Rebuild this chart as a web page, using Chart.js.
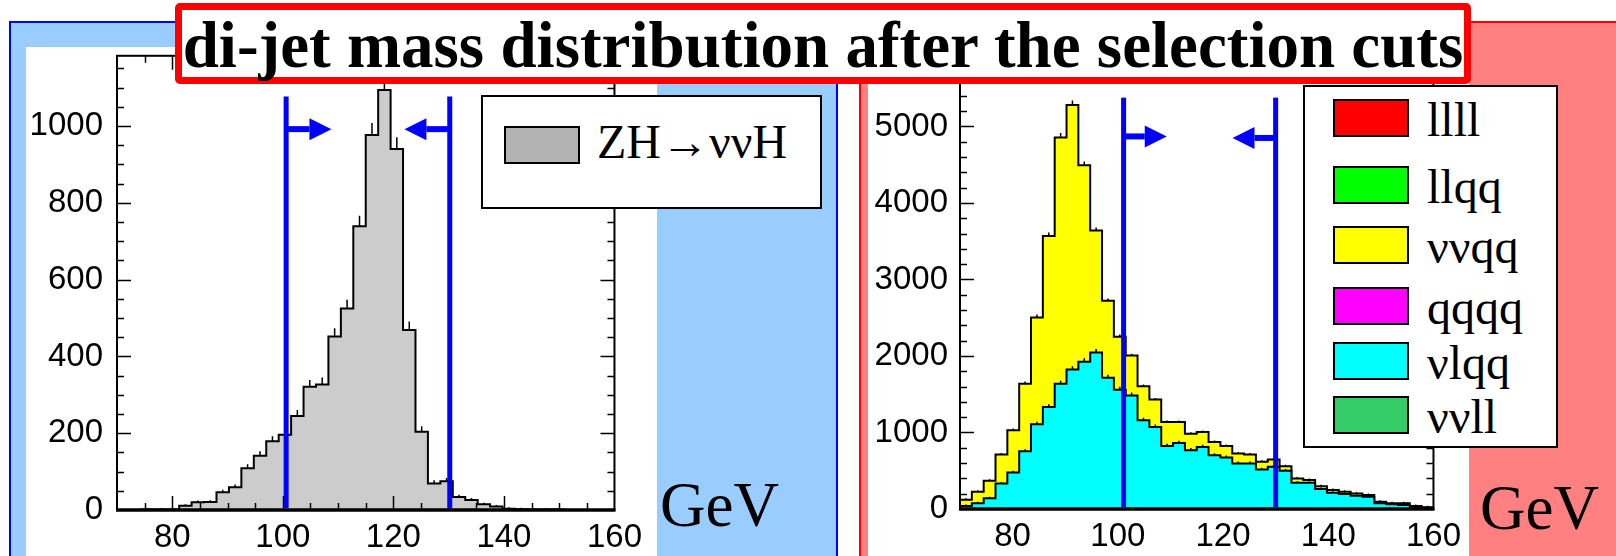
<!DOCTYPE html>
<html>
<head>
<meta charset="utf-8">
<script src="https://cdn.jsdelivr.net/npm/chart.js@4.4.1/dist/chart.umd.min.js"></script>
<style>
  html, body { margin: 0; padding: 0; }
  body { width: 1616px; height: 556px; position: relative; overflow: hidden; background: #fff;
         font-family: "Liberation Serif", "Times New Roman", serif; }
  .abs { position: absolute; box-sizing: border-box; }
  #signalFrame { left: 9px; top: 21px; width: 829px; height: 600px; background: #99ccff;
                 border: 2px solid #0000ff; border-bottom: none; }
  #signalInner { left: 26px; top: 47px; width: 631px; height: 520px; background: #fff; }
  #bgFrame { left: 859px; top: 21px; width: 800px; height: 600px; background: #ff8080;
             border-left: 2px solid #ff0000; border-top: 2px solid #ff0000; }
  #bgInner { left: 868px; top: 47px; width: 601px; height: 520px; background: #fff; }
  canvas { position: absolute; }
  #signalCanvas { left: 20px; top: 22px; }
  #bgCanvas { left: 862px; top: 22px; }
  #title { left: 175px; top: 3px; width: 1296px; height: 81px; border: 7px solid #ff0000; border-radius: 5px;
           background: #fff; font-weight: bold; font-size: 65px; line-height: 67px; padding-top: 2px;
           text-align: center; white-space: nowrap; color: #000; }
  .legendBox { background: #fff; border: 2px solid #000; }
  .swatch { border: 2px solid #000; width: 76px; height: 38px; }
  .legendText { line-height: 1; white-space: nowrap; color: #000; }
  .gev { font-size: 63px; line-height: 1; color: #000; }
</style>
</head>
<body>
<div class="abs" id="signalFrame"></div>
<div class="abs" id="signalInner"></div>
<div class="abs" id="bgFrame"></div>
<div class="abs" id="bgInner"></div>

<canvas id="signalCanvas" width="630" height="534"></canvas>
<canvas id="bgCanvas" width="607" height="534"></canvas>

<div class="abs legendBox" style="left:481px; top:95px; width:341px; height:114px;"></div>
<div class="abs swatch" id="signalSwatch" style="left:504px; top:126px;"></div>
<div class="abs legendText" id="signalLegendText" style="left:597px; top:118px; font-size:48px;"></div>

<div class="abs legendBox" id="bgLegend" style="left:1303px; top:85px; width:255px; height:363px;"></div>

<div class="abs gev" style="left:660px; top:474px;">GeV</div>
<div class="abs gev" style="left:1480px; top:477px;">GeV</div>

<div class="abs" id="title">di-jet mass distribution after the selection cuts</div>

<script>
// histogram binning (GeV)
const massMin = 70;
const massMax = 160;
const binWidth = 2.25;

const massTicks = [80, 100, 120, 140, 160];
const signalTicks = [0, 200, 400, 600, 800, 1000];
const backgroundTicks = [0, 1000, 2000, 3000, 4000, 5000];

// ZH -> nu nu H signal, events per bin
const signalLabel = 'ZH→ννH';
const signalColor = '#cccccc';
const signalSwatchColor = '#b3b3b3';
const signalCounts = [
  0, 0, 1, 1, 1, 11, 20, 21, 46, 59,
  109, 141, 179, 196, 245, 321, 327, 452, 525, 739,
  977, 1094, 940, 469, 204, 69, 75, 34, 26, 15,
  9, 3, 2, 1, 1, 1, 0, 0, 0, 0
];

// backgrounds
const backgroundLabels = ['llll', 'llqq', 'ννqq', 'qqqq', 'νlqq', 'ννll'];
const backgroundColors = ['#ff0000', '#00ff00', '#ffff00', '#ff00ff', '#00ffff', '#33cc66'];
const vlqqCounts = [
  40, 74, 139, 334, 477, 755, 1107, 1332, 1636, 1823,
  1925, 2045, 1714, 1558, 1484, 1159, 1072, 825, 864, 768,
  811, 703, 673, 595, 595, 516, 551, 499, 343, 343,
  260, 213, 195, 174, 161, 74, 61, 52, 22, 15
];
const vvqqCounts = [
  80, 152, 230, 378, 552, 881, 1397, 2236, 3221, 3459,
  2567, 1595, 1007, 695, 521, 447, 360, 312, 273, 217,
  196, 174, 152, 130, 117, 100, 96, 61, 56, 35,
  39, 34, 31, 30, 21, 21, 13, 22, 17, 7
];

// mass window cuts
const signalCuts = [100.6, 130.2];
const backgroundCuts = [101.1, 130.0];

function toSteps(counts) {
  const pts = counts.map((c, i) => ({ x: massMin + i * binWidth, y: c }));
  pts.push({ x: massMax, y: 0 });
  return pts;
}

function drawTicks(chart, o) {
  const { ctx, chartArea: a, scales: { x, y } } = chart;
  ctx.save();
  ctx.strokeStyle = '#000';
  ctx.lineWidth = 1.5;
  ctx.beginPath();
  for (let v = x.min + o.xMinor; v < x.max - 1e-6; v += o.xMinor) {
    const len = Math.abs(v % o.xMajor) < 1e-6 ? 14 : 7;
    const px = Math.round(x.getPixelForValue(v)) + 0.5;
    ctx.moveTo(px, a.bottom); ctx.lineTo(px, a.bottom - len);
    ctx.moveTo(px, a.top); ctx.lineTo(px, a.top + len);
  }
  for (let v = y.min + o.yMinor; v < y.max; v += o.yMinor) {
    const len = v % o.yMajor === 0 ? 14 : 7;
    const py = Math.round(y.getPixelForValue(v)) + 0.5;
    ctx.moveTo(a.left, py); ctx.lineTo(a.left + len, py);
    ctx.moveTo(a.right, py); ctx.lineTo(a.right - len, py);
  }
  ctx.stroke();
  ctx.restore();
}

// ROOT style frame: box around the plot with inward ticks on all sides
const framePlugin = {
  id: 'histFrame',
  beforeDatasetsDraw(chart, args, o) {
    if (!o.ticksOnTop) drawTicks(chart, o);
  },
  afterDatasetsDraw(chart, args, o) {
    if (o.ticksOnTop) drawTicks(chart, o);
    const { ctx, chartArea: a } = chart;
    ctx.save();
    ctx.strokeStyle = '#000';
    ctx.lineWidth = 2;
    ctx.strokeRect(a.left, a.top, a.right - a.left, a.bottom - a.top);
    ctx.lineWidth = 3.5;
    ctx.beginPath();
    ctx.moveTo(a.left - 1, a.bottom);
    ctx.lineTo(a.right + 1, a.bottom);
    ctx.stroke();
    ctx.restore();
  }
};

// small statistical error marks on top of each bin
const errorPlugin = {
  id: 'binErrors',
  afterDatasetsDraw(chart) {
    const { ctx, scales: { y } } = chart;
    ctx.save();
    ctx.strokeStyle = '#000';
    ctx.lineWidth = 1.5;
    ctx.beginPath();
    chart.data.datasets.forEach((ds, di) => {
      const pts = chart.getDatasetMeta(di).data;
      ds.counts.forEach((c, i) => {
        if (!c) return;
        const cx = (pts[i].x + pts[i + 1].x) / 2;
        const len = y.getPixelForValue(0) - y.getPixelForValue(Math.sqrt(c));
        ctx.moveTo(cx, pts[i].y);
        ctx.lineTo(cx, pts[i].y - Math.max(len, 1.5));
      });
    });
    ctx.stroke();
    ctx.restore();
  }
};

// blue cut lines with arrows pointing into the mass window
const cutPlugin = {
  id: 'cutArrows',
  afterDatasetsDraw(chart, args, o) {
    const { ctx, scales: { x, y } } = chart;
    ctx.save();
    ctx.fillStyle = '#0000ff';
    o.cuts.forEach((cut, k) => {
      const dir = k === 0 ? 1 : -1;
      const px = x.getPixelForValue(cut);
      const top = y.getPixelForValue(o.lineTop);
      const bottom = y.getPixelForValue(0) - 2;
      ctx.fillRect(px - 2.5, top, 5, bottom - top);
      const ay = y.getPixelForValue(o.arrowLevel[k]);
      const tip = x.getPixelForValue(cut + dir * o.arrowLength);
      const head = tip - dir * 22;
      ctx.fillRect(Math.min(px, head), ay - 3, Math.abs(head - px), 6);
      ctx.beginPath();
      ctx.moveTo(tip, ay);
      ctx.lineTo(head, ay - 11);
      ctx.lineTo(head, ay + 11);
      ctx.closePath();
      ctx.fill();
    });
    ctx.restore();
  }
};

function histOptions(cfg) {
  const font = { family: '"Liberation Sans", Arial, sans-serif', size: 33 };
  return {
    responsive: false,
    animation: false,
    events: [],
    layout: { padding: { top: 30, right: 32, left: 0, bottom: 0 } },
    elements: { point: { radius: 0 }, line: { borderWidth: 2, borderColor: '#000' } },
    scales: {
      x: {
        type: 'linear', min: massMin, max: massMax,
        grid: { display: false, drawTicks: false }, border: { display: false },
        ticks: { font, color: '#000', padding: 8, maxRotation: 0, callback: v => String(v) },
        afterBuildTicks: s => { s.ticks = massTicks.map(v => ({ value: v })); },
        afterFit: s => { s.height = cfg.xHeight; }
      },
      y: {
        type: 'linear', min: 0, max: cfg.yMax, stacked: cfg.stacked,
        grid: { display: false, drawTicks: false }, border: { display: false },
        ticks: { font, color: '#000', padding: cfg.yPad, callback: v => String(v) },
        afterBuildTicks: s => { s.ticks = cfg.yTicks.map(v => ({ value: v })); },
        afterFit: s => { s.width = cfg.yWidth; }
      }
    },
    plugins: {
      legend: { display: false },
      tooltip: { enabled: false },
      histFrame: { xMinor: 5, xMajor: 20, yMinor: cfg.yMinor, yMajor: cfg.yMajor, ticksOnTop: cfg.ticksOnTop },
      cutArrows: { cuts: cfg.cuts, lineTop: cfg.lineTop, arrowLevel: cfg.arrowLevel, arrowLength: 8.2 }
    }
  };
}

new Chart(document.getElementById('signalCanvas'), {
  type: 'line',
  data: {
    datasets: [{
      label: signalLabel,
      data: toSteps(signalCounts),
      counts: signalCounts,
      stepped: 'before',
      fill: 'origin',
      backgroundColor: signalColor
    }]
  },
  options: histOptions({
    yMax: 1183, yTicks: signalTicks, yMinor: 50, yMajor: 200, yWidth: 97, yPad: 14, xHeight: 46,
    stacked: false, ticksOnTop: true,
    cuts: signalCuts, lineTop: 1077, arrowLevel: [992, 992]
  }),
  plugins: [framePlugin, errorPlugin, cutPlugin]
});

new Chart(document.getElementById('bgCanvas'), {
  type: 'line',
  data: {
    datasets: [{
      label: backgroundLabels[4],
      data: toSteps(vlqqCounts),
      counts: vlqqCounts,
      stepped: 'before',
      fill: 'origin',
      backgroundColor: backgroundColors[4]
    }, {
      label: backgroundLabels[2],
      data: toSteps(vvqqCounts),
      counts: vvqqCounts,
      stepped: 'before',
      fill: '-1',
      backgroundColor: backgroundColors[2]
    }]
  },
  options: histOptions({
    yMax: 5950, yTicks: backgroundTicks, yMinor: 200, yMajor: 1000, yWidth: 98, yPad: 12, xHeight: 47,
    stacked: true, ticksOnTop: false,
    cuts: backgroundCuts, lineTop: 5377, arrowLevel: [4870, 4850]
  }),
  plugins: [framePlugin, errorPlugin, cutPlugin]
});

// legends
document.getElementById('signalSwatch').style.background = signalSwatchColor;
document.getElementById('signalLegendText').textContent = signalLabel;

const legendRowTops = [99, 166, 226, 287, 342, 396];
backgroundLabels.forEach((label, i) => {
  const sw = document.createElement('div');
  sw.className = 'abs swatch';
  sw.style.left = '1333px';
  sw.style.top = legendRowTops[i] + 'px';
  sw.style.background = backgroundColors[i];
  document.body.appendChild(sw);
  const txt = document.createElement('div');
  txt.className = 'abs legendText';
  txt.style.left = '1427px';
  txt.style.top = (legendRowTops[i] + 38 - 41) + 'px';
  txt.style.fontSize = '48px';
  txt.textContent = label;
  document.body.appendChild(txt);
});
</script>
</body>
</html>
